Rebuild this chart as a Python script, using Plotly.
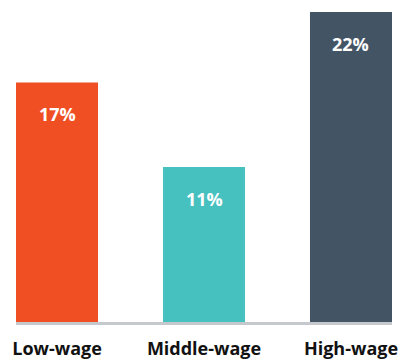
import plotly.graph_objects as go

categories = ["Low-wage", "Middle-wage", "High-wage"]
shares = [17, 11, 22]
bar_colors = ["#F04E23", "#47C1BF", "#435465"]
value_labels = ["17%", "11%", "22%"]

FONT = "'Open Sans', Lato, sans-serif"

x_pos = list(range(len(categories)))

fig = go.Figure(
    go.Bar(
        x=x_pos,
        y=shares,
        width=0.558,
        marker=dict(color=bar_colors, line=dict(width=0)),
        hoverinfo="skip",
    )
)

# value labels sit just below the top of each bar
for xi, v, lab in zip(x_pos, shares, value_labels):
    fig.add_annotation(
        x=xi, y=v, text=f"<b>{lab}</b>", showarrow=False,
        yanchor="middle", yshift=-32,
        font=dict(family=FONT, size=18, color="white"),
    )

# grey baseline band just under the bars
fig.add_shape(
    type="rect", xref="x", yref="paper", ysizemode="pixel", yanchor=0,
    x0=-0.279, x1=2.279, y0=-3, y1=0,
    fillcolor="#C5C9CE", line=dict(width=0),
)

fig.update_layout(
    width=409, height=364,
    margin=dict(l=16, r=17, t=12, b=42),
    paper_bgcolor="white", plot_bgcolor="white",
    showlegend=False,
    xaxis=dict(
        range=[-0.279, 2.279],
        tickmode="array", tickvals=x_pos,
        ticktext=[f"<b>{c}</b>" for c in categories],
        tickfont=dict(family=FONT, size=18, color="#111111"),
        showgrid=False, zeroline=False, showline=False,
        ticks="", ticklabelstandoff=14, automargin=False,
        fixedrange=True,
    ),
    yaxis=dict(
        range=[0, 22], visible=False, showgrid=False, zeroline=False,
        fixedrange=True,
    ),
)

fig.write_html("out.html", config={"displayModeBar": False})
